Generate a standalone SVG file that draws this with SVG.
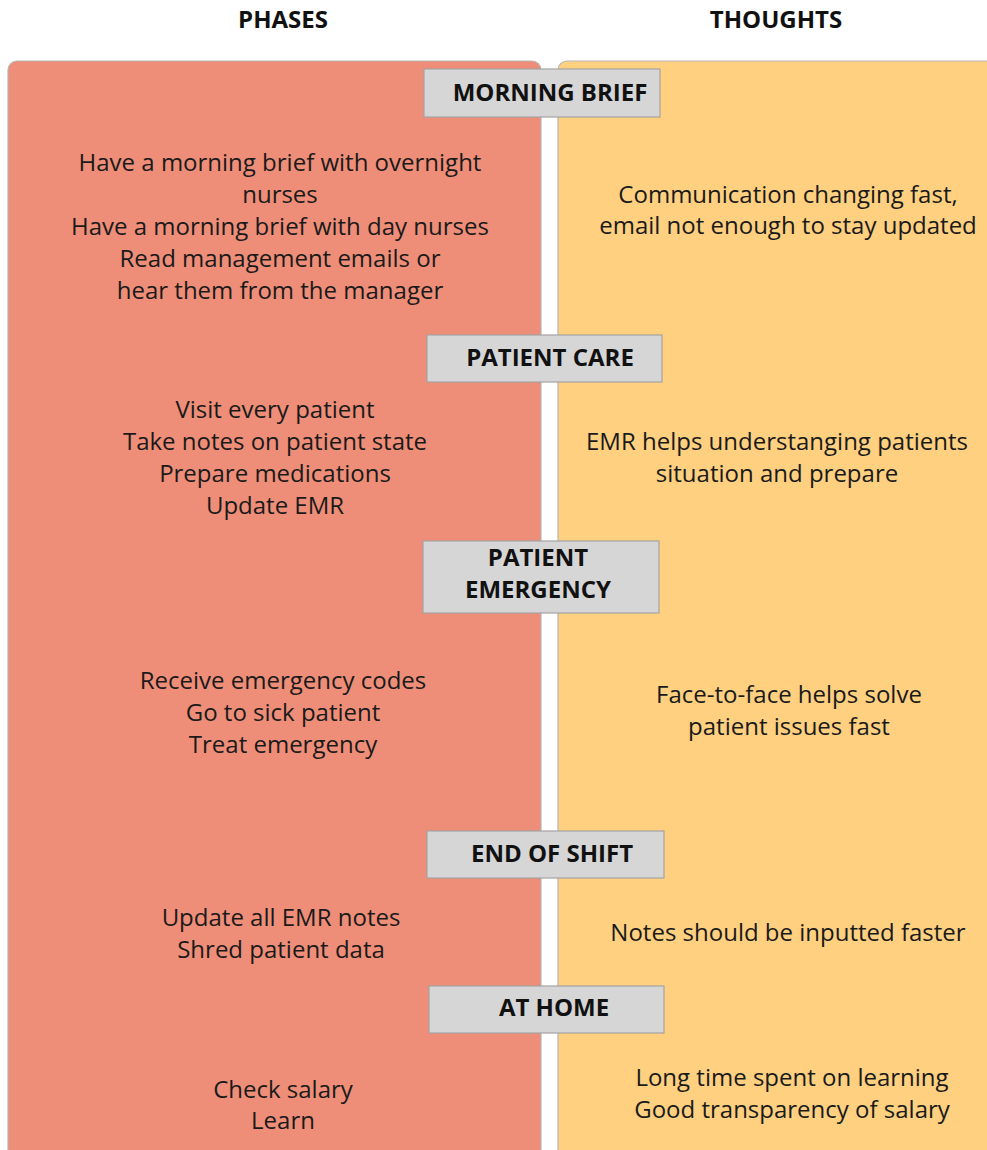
<svg xmlns="http://www.w3.org/2000/svg" width="987" height="1150" viewBox="0 0 987 1150">
  <style>
    .hdr { font-family: "Open Sans", "Liberation Sans", sans-serif; font-weight: bold; font-size: 24px; fill: #111; text-anchor: middle; }
    .body { font-family: "Open Sans", "Liberation Sans", sans-serif; font-size: 24px; fill: #1a1a1a; text-anchor: middle; }
    .lbl { font-family: "Open Sans", "Liberation Sans", sans-serif; font-weight: bold; font-size: 24px; fill: #111; text-anchor: middle; }
    .tag { fill: #d6d6d6; stroke: #a3a3a3; stroke-width: 1.2; }
    .lane { stroke: #b5b5b5; stroke-width: 1.2; }
  </style>

  <rect width="987" height="1150" fill="#ffffff"/>

  <!-- column headers -->
  <text class="hdr" x="283" y="28">PHASES</text>
  <text class="hdr" x="776" y="28">THOUGHTS</text>

  <!-- swimlane panels -->
  <g id="lane-phases">
    <rect class="lane" x="8" y="61" width="533" height="1110" rx="9" fill="#ee8e78"/>
  </g>
  <g id="lane-thoughts">
    <rect class="lane" x="558" y="61" width="440" height="1110" rx="9" fill="#fed080"/>
  </g>

  <!-- connectors (none drawn) -->
  <g id="connectors"></g>

  <!-- Morning brief -->
  <g id="morning-brief">
    <rect class="tag" x="424" y="69" width="236" height="48"/>
    <text class="lbl" x="550" y="101">MORNING BRIEF</text>
    <text class="body" x="280" y="171">Have a morning brief with overnight</text>
    <text class="body" x="280" y="203">nurses</text>
    <text class="body" x="280" y="235">Have a morning brief with day nurses</text>
    <text class="body" x="280" y="267">Read management emails or</text>
    <text class="body" x="280" y="299">hear them from the manager</text>
    <text class="body" x="788" y="203">Communication changing fast,</text>
    <text class="body" x="788" y="234">email not enough to stay updated</text>
  </g>

  <!-- Patient care -->
  <g id="patient-care">
    <rect class="tag" x="427" y="335" width="235" height="47"/>
    <text class="lbl" x="550" y="366">PATIENT CARE</text>
    <text class="body" x="275" y="418">Visit every patient</text>
    <text class="body" x="275" y="450">Take notes on patient state</text>
    <text class="body" x="275" y="482">Prepare medications</text>
    <text class="body" x="275" y="514">Update EMR</text>
    <text class="body" x="777" y="450">EMR helps understanging patients</text>
    <text class="body" x="777" y="482">situation and prepare</text>
  </g>

  <!-- Patient emergency -->
  <g id="patient-emergency">
    <rect class="tag" x="423" y="541" width="236" height="72"/>
    <text class="lbl" x="538" y="566">PATIENT</text>
    <text class="lbl" x="538" y="598">EMERGENCY</text>
    <text class="body" x="283" y="689">Receive emergency codes</text>
    <text class="body" x="283" y="721">Go to sick patient</text>
    <text class="body" x="283" y="753">Treat emergency</text>
    <text class="body" x="789" y="703">Face-to-face helps solve</text>
    <text class="body" x="789" y="735">patient issues fast</text>
  </g>

  <!-- End of shift -->
  <g id="end-of-shift">
    <rect class="tag" x="427" y="831" width="237" height="47"/>
    <text class="lbl" x="552" y="862">END OF SHIFT</text>
    <text class="body" x="281" y="926">Update all EMR notes</text>
    <text class="body" x="281" y="958">Shred patient data</text>
    <text class="body" x="788" y="941">Notes should be inputted faster</text>
  </g>

  <!-- At home -->
  <g id="at-home">
    <rect class="tag" x="429" y="986" width="235" height="47"/>
    <text class="lbl" x="554" y="1016">AT HOME</text>
    <text class="body" x="283" y="1098">Check salary</text>
    <text class="body" x="283" y="1129">Learn</text>
    <text class="body" x="792" y="1086">Long time spent on learning</text>
    <text class="body" x="792" y="1118">Good transparency of salary</text>
  </g>
</svg>
